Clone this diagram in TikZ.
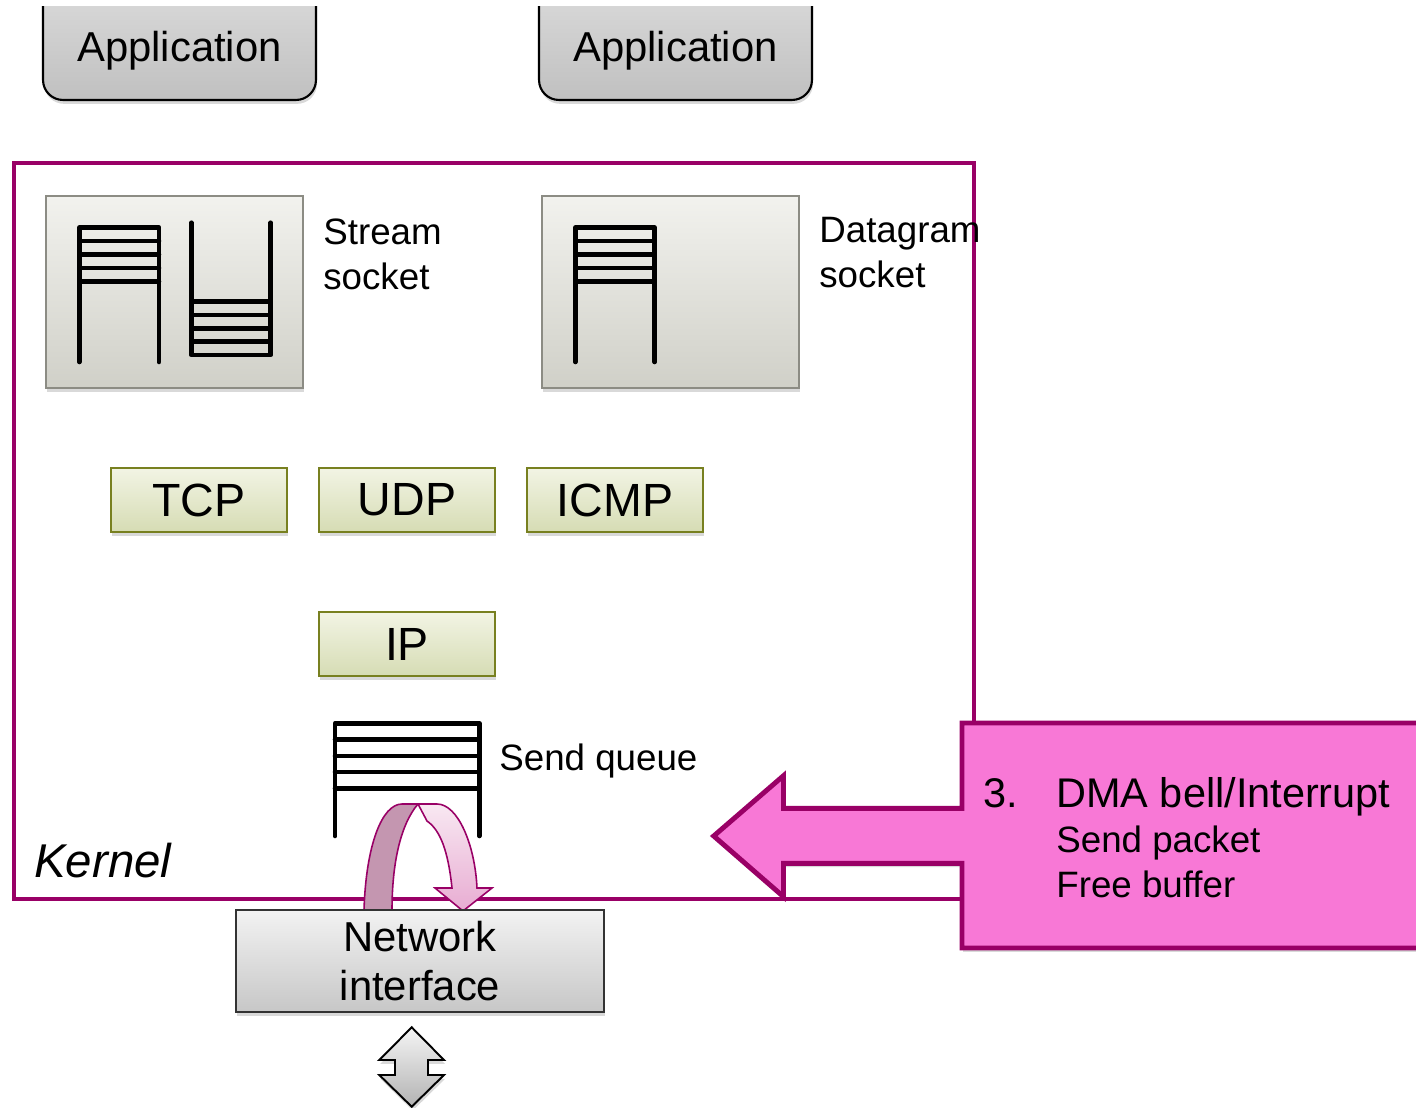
\documentclass[tikz,border=0pt]{standalone}
\usepackage{fontspec}
\setmainfont{Liberation Sans}
\usepackage{tikz}
\usetikzlibrary{shadows}
\definecolor{kernelpurple}{RGB}{153,0,102}
\definecolor{bellpink}{RGB}{248,120,214}
\definecolor{apptop}{RGB}{222,222,222}
\definecolor{appbot}{RGB}{192,192,192}
\definecolor{socktop}{RGB}{242,242,238}
\definecolor{sockbot}{RGB}{208,208,200}
\definecolor{sockedge}{RGB}{140,140,132}
\definecolor{prototop}{RGB}{242,244,228}
\definecolor{protobot}{RGB}{214,220,180}
\definecolor{protoedge}{RGB}{120,128,32}
\definecolor{arcdark}{RGB}{196,150,176}
\definecolor{arclighttop}{RGB}{248,232,242}
\definecolor{arclightbot}{RGB}{232,172,210}
\tikzstyle{softshadow}=[drop shadow={opacity=0.3,shadow xshift=0.6pt,shadow yshift=-2.2pt}]
\tikzstyle{appbox}=[draw=black, line width=1.2pt, rounded corners=0.4cm, top color=apptop, bottom color=appbot, minimum width=5.46cm, minimum height=2.6cm, softshadow]
\tikzstyle{sockbox}=[draw=sockedge, line width=0.9pt, top color=socktop, bottom color=sockbot, minimum width=5.14cm, minimum height=3.84cm, softshadow]
\tikzstyle{proto}=[draw=protoedge, line width=1.1pt, top color=prototop, bottom color=protobot, minimum width=3.52cm, minimum height=1.28cm, font=\fontsize{26.5}{30}\selectfont, softshadow]
\tikzstyle{qline}=[line width=2.6pt, line cap=round, line join=round]
\tikzstyle{sidetext}=[anchor=base west, inner sep=0pt, font=\fontsize{20.9}{25}\selectfont]

\begin{document}
\begin{tikzpicture}[x=0.02cm, y=-0.02cm]
    \useasboundingbox (0,0) rectangle (1416,1108);

    % applications, cut off at the top
    \begin{scope}
    \clip (0,7) rectangle (1416,1108);
    \node[appbox] (app1) at (179.5,35) {};
    \node[appbox] (app2) at (675.5,35) {};
    \end{scope}
    \node[font=\fontsize{23.8}{28}\selectfont, anchor=base] (app1text) at (179.5,61.7) {Application};
    \node[font=\fontsize{23.8}{28}\selectfont, anchor=base] (app2text) at (675.5,61.7) {Application};

    % the kernel
    \node[draw=kernelpurple, line width=2.3pt, minimum width=19.2cm, minimum height=14.72cm] (kernel) at (494,531) {};
    \node[anchor=base west, inner sep=0pt, font=\fontsize{27}{30}\selectfont\itshape] (kerneltext) at (34,877) {Kernel};

    % sockets
    \node[sockbox] (stream) at (174.5,292) {};
    \node[sockbox] (dgram) at (670.5,292) {};
    \node[sidetext] (streamtext) at (323,244) {Stream};
    \node[sidetext] (streamtext2) at (323,289) {socket};
    \node[sidetext] (dgramtext) at (819,242) {Datagram};
    \node[sidetext] (dgramtext2) at (819,287) {socket};

    % stream socket: send queue and receive queue
    \draw[qline] (79.3,362) -- (79.3,227.5) -- (159,227.5) -- (159,362);
    \foreach \y in {241,254.5,268,281.5}
    \draw[qline] (79.3,\y) -- (159,\y);
    \draw[qline] (191.3,222.7) -- (191.3,355) -- (270.7,355) -- (270.7,222.7);
    \foreach \y in {301.7,315,328.3,341.7}
    \draw[qline] (191.3,\y) -- (270.7,\y);

    % datagram socket: send queue
    \draw[qline] (575.3,362) -- (575.3,227.5) -- (654.7,227.5) -- (654.7,362);
    \foreach \y in {241,254.5,268,281.5}
    \draw[qline] (575.3,\y) -- (654.7,\y);

    % protocols
    \node[proto] (tcp) at (199,500) {TCP};
    \node[proto] (udp) at (407,500) {UDP};
    \node[proto] (icmp) at (615,500) {ICMP};
    \node[proto] (ip) at (407,644) {IP};

    % send queue
    \draw[qline] (335,836) -- (335,723.3) -- (479.3,723.3) -- (479.3,836);
    \foreach \y in {739.5,755.8,772,788.3}
    \draw[qline] (335,\y) -- (479.3,\y);
    \node[sidetext] (sendtext) at (499,770) {Send queue};

    % call-out with its arrow
    \draw[kernelpurple, line width=2.8pt, fill=bellpink, line join=miter, softshadow]
      (962,723) -- (1440,723) -- (1440,948) -- (962,948) -- (962,863.3)
      -- (783.5,863.3) -- (783.5,896.7) -- (713.7,836) -- (783.5,775.7)
      -- (783.5,808.3) -- (962,808.3) -- cycle;
    \node[anchor=base west, inner sep=0pt, font=\fontsize{23.6}{28}\selectfont] (step3) at (983,807) {3.};
    \node[anchor=base west, inner sep=0pt, font=\fontsize{23.6}{28}\selectfont] (dmatext) at (1056,807) {DMA bell/Interrupt};
    \node[sidetext] (sendpkt) at (1056,852.5) {Send packet};
    \node[sidetext] (freebuf) at (1056,897.3) {Free buffer};

    % curved arrow from the queue down to the card
    \draw[kernelpurple, line width=0.9pt, fill=arcdark]
      (364,910) .. controls (366,845) and (382,804) .. (402,804)
      -- (418,804) .. controls (400,825) and (392,865) .. (392,910) -- cycle;
    \draw[kernelpurple, line width=0.9pt, top color=arclighttop, bottom color=arclightbot]
      (418,804) -- (437,804) .. controls (458,804) and (475,845) .. (477,888)
      -- (492,888) -- (463,911) -- (435,888) -- (452,888)
      .. controls (448,850) and (440,830) .. (427,821) -- cycle;

    % network interface
    \node[draw=black!80, line width=1.1pt, top color=black!5, bottom color=black!22, minimum width=7.36cm, minimum height=2.04cm, align=center, font=\fontsize{23.8}{28.4}\selectfont, softshadow] (nic) at (420,961) {Network\\interface};

    % up/down arrow to the wire
    \draw[black, line width=1.1pt, top color=black!4, bottom color=black!30, softshadow]
      (411.7,1027.3) -- (444,1060) -- (428,1060) -- (428,1075) -- (444,1075)
      -- (411.7,1106.7) -- (379.3,1075) -- (395,1075) -- (395,1060)
      -- (379.3,1060) -- cycle;
\end{tikzpicture}
\end{document}
